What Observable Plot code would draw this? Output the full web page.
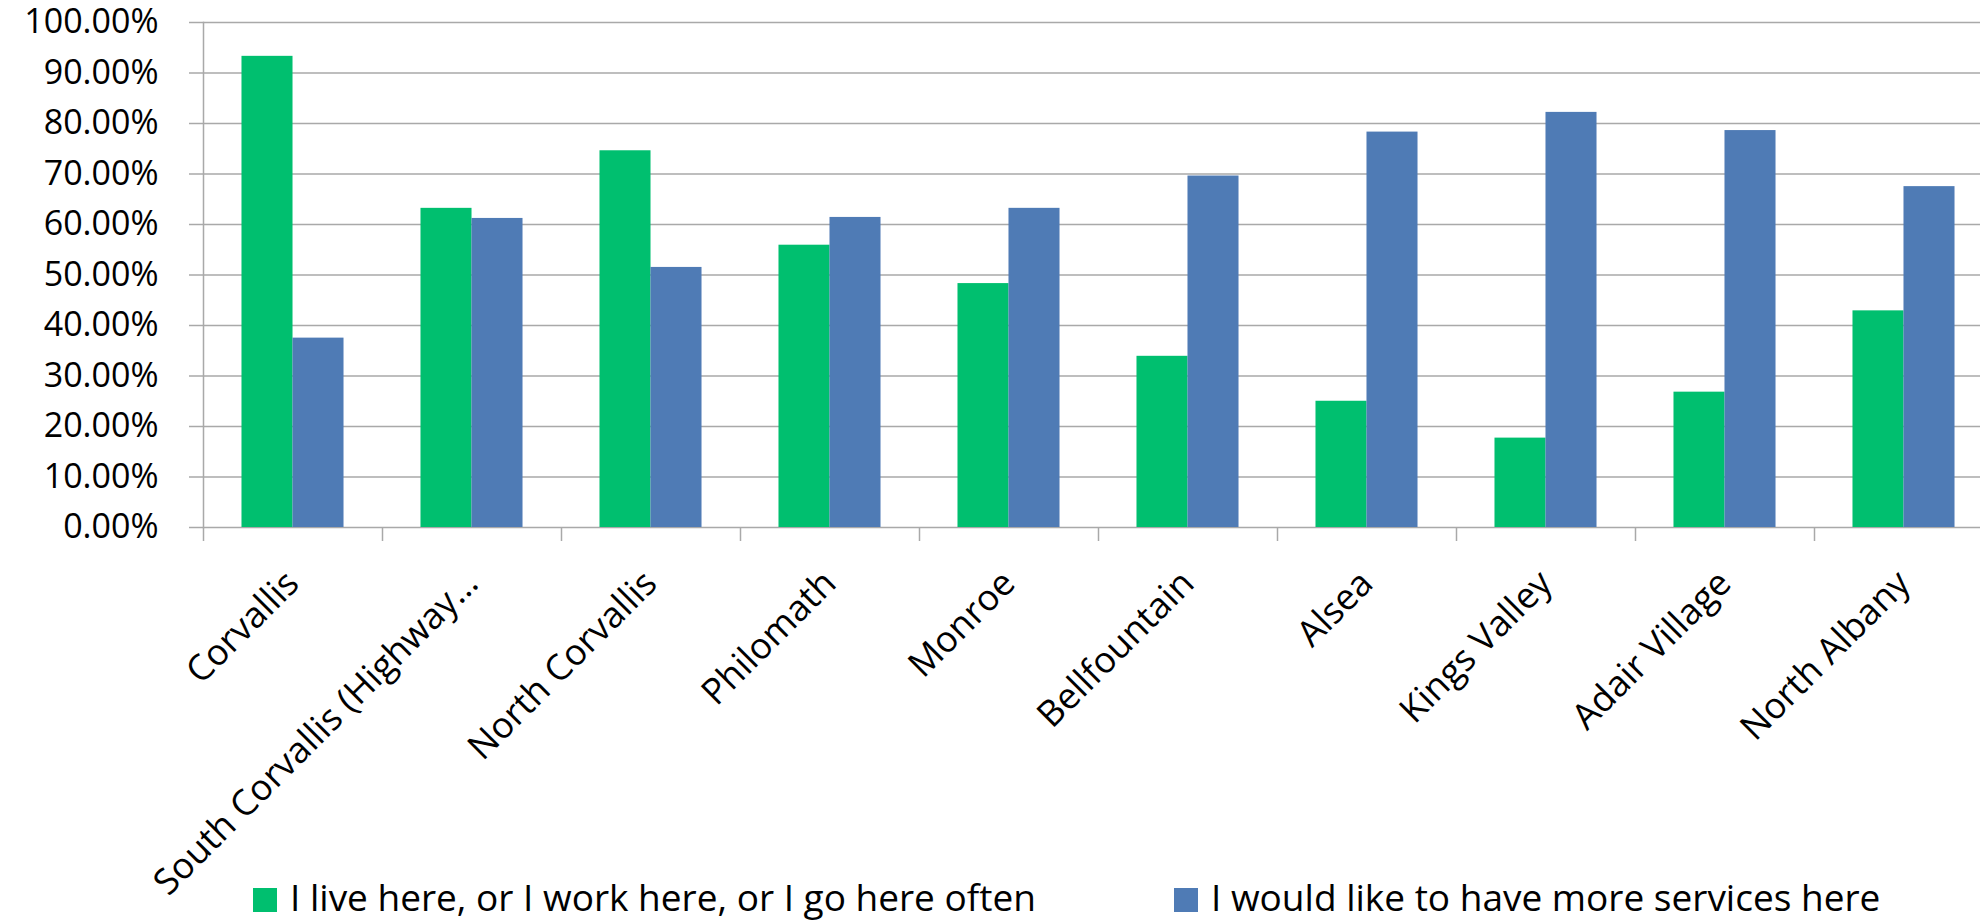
<!DOCTYPE html>
<html>
<head>
<meta charset="utf-8">
<script src="https://cdn.jsdelivr.net/npm/d3@7"></script>
<script src="https://cdn.jsdelivr.net/npm/@observablehq/plot@0.6"></script>
<style>
  html, body { margin: 0; padding: 0; background: #fff; }
  #page { position: relative; width: 1980px; height: 921px; overflow: hidden; }
  #chart { position: absolute; left: 0; top: 0; width: 1980px; }
  #legend { position: absolute; left: 0; top: 860px; width: 1980px; height: 61px; font-family: "Open Sans", sans-serif; font-size: 37px; color: #000; }
  #legend .swatch { position: absolute; top: 28px; width: 24px; height: 24px; }
  #legend .label { position: absolute; top: 15px; line-height: 1.2; white-space: nowrap; }
</style>
</head>
<body>
<div id="page">
  <div id="chart"></div>
  <div id="legend"></div>
</div>
<script>
// Communities asked about in the survey
const categories = [
  "Corvallis",
  "South Corvallis (Highway…",
  "North Corvallis",
  "Philomath",
  "Monroe",
  "Bellfountain",
  "Alsea",
  "Kings Valley",
  "Adair Village",
  "North Albany"
];

// Response options (series)
const series = [
  "I live here, or I work here, or I go here often",
  "I would like to have more services here"
];

// Share of respondents choosing each option, per community
const liveWorkGo   = [0.933, 0.632, 0.746, 0.559, 0.483, 0.339, 0.250, 0.177, 0.268, 0.429];
const moreServices = [0.375, 0.612, 0.515, 0.614, 0.632, 0.696, 0.783, 0.822, 0.786, 0.675];

// Value axis ticks
const yTicks = [0, 0.1, 0.2, 0.3, 0.4, 0.5, 0.6, 0.7, 0.8, 0.9, 1.0];

const colors = ["#00BF6F", "#4F7BB5"];
const gridColor = "#a9a9a9";

const rows = categories.flatMap((c, i) => [
  {category: c, series: series[0], value: liveWorkGo[i]},
  {category: c, series: series[1], value: moreServices[i]}
]);

const halfBand = 51; // each bar takes half of the category band

const chart = Plot.plot({
  width: 1980,
  height: 921,
  marginLeft: 203,
  marginRight: -13,
  marginTop: 22,
  marginBottom: 394,
  style: {
    fontFamily: "'Open Sans', sans-serif",
    fontSize: "36px",
    color: "#000",
    background: "transparent",
    overflow: "hidden"
  },
  x: {domain: categories, paddingInner: 0.43, paddingOuter: 0.215, round: false, axis: null},
  y: {domain: [0, 1], axis: null},
  color: {domain: series, range: colors},
  marks: [
    Plot.gridY(yTicks, {stroke: gridColor, strokeOpacity: 1, strokeWidth: 1.5}),
    Plot.axisY(yTicks, {
      anchor: "left",
      tickSize: 14,
      tickPadding: 31,
      tickFormat: d3.format(".2%"),
      stroke: gridColor,
      strokeWidth: 1.5,
      fill: "#000",
      fontSize: 34,
      label: null
    }),
    Plot.frame({anchor: "left", stroke: gridColor, strokeWidth: 1.5}),
    Plot.barY(rows.filter(d => d.series === series[0]), {
      x: "category", y: "value", fill: "series", insetRight: halfBand
    }),
    Plot.barY(rows.filter(d => d.series === series[1]), {
      x: "category", y: "value", fill: "series", insetLeft: halfBand
    }),
    // tick marks between categories
    Plot.axisX({
      anchor: "bottom",
      tickSize: 14,
      text: null,
      dx: -89.5,
      stroke: gridColor,
      strokeWidth: 1.5,
      label: null
    }),
    // rotated category labels
    Plot.text(categories, {
      x: d => d,
      y: () => 0,
      text: d => d,
      rotate: -45,
      textAnchor: "end",
      lineAnchor: "bottom",
      dx: 8,
      dy: 58,
      fill: "#000"
    })
  ]
});

document.getElementById("chart").appendChild(chart);

// Legend below the plot area
const legendPos = [253, 1174];
const legend = d3.select("#legend");
series.forEach((s, i) => {
  legend.append("div")
    .attr("class", "swatch")
    .style("left", legendPos[i] + "px")
    .style("background", colors[i]);
  legend.append("div")
    .attr("class", "label")
    .style("left", (legendPos[i] + 37) + "px")
    .text(s);
});
</script>
</body>
</html>
